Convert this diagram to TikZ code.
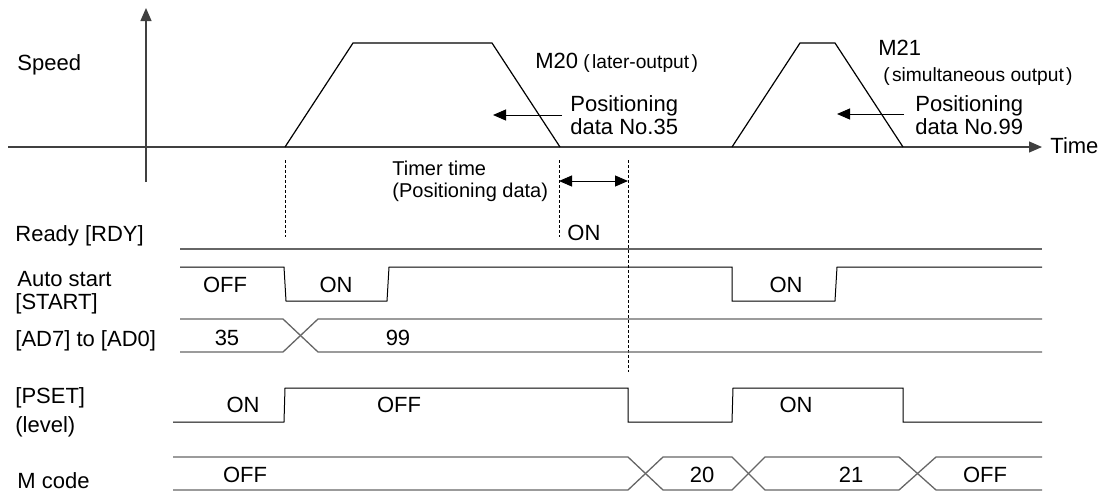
\documentclass[tikz,border=0pt]{standalone}
\usepackage{fontspec}
\setmainfont{Liberation Sans}
\usetikzlibrary{arrows.meta}
\begin{document}
\begin{tikzpicture}[x=0.5pt,y=-0.5pt,
  font=\fontsize{11}{12}\selectfont,
  grid/.style={draw=black!60, line width=0.65pt},
  sig/.style={draw=black, line width=0.5pt},
  ax/.style={draw=black!75, line width=0.6pt},
  trap/.style={draw=black, line width=0.6pt},
  tip/.style={-{Triangle[length=6.5pt,width=5.5pt]}},
  dtip/.style={{Triangle[length=6.5pt,width=5.5pt]}-{Triangle[length=6.5pt,width=5.5pt]}},
  lbl/.style={anchor=base west, inner sep=0pt},
  val/.style={anchor=base, inner sep=0pt},
  small/.style={font=\fontsize{9.6}{10}\selectfont},
  mid/.style={font=\fontsize{10}{12}\selectfont},
  dsh/.style={draw=black, line width=0.5pt, dash pattern=on 1.5pt off 1pt}]
\useasboundingbox (0,0) rectangle (1104,493);

% axes
\coordinate (vb) at (146,182);
\coordinate (vt) at (146,8);
\draw[ax,tip] (vb) -- (vt);
\coordinate (h0) at (8,147);
\coordinate (h1) at (1042,147);
\draw[ax,tip] (h0) -- (h1);
\node[lbl] (time) at (1050,153) {Time};

% speed profiles
\draw[trap] (285,147) -- (353,43) -- (492,43) -- (560,147);
\draw[trap] (732,147) -- (800,43) -- (835,43) -- (903,147);

% left labels
\node[lbl] (speed) at (17,70) {Speed};
\node[lbl] (rdy) at (15,241) {Ready [RDY]};
\node[lbl] (auto) at (17,286) {Auto start};
\node[lbl] (start) at (15,309) {[START]};
\node[lbl] (ad) at (15,346) {[AD7] to [AD0]};
\node[lbl] (pset) at (15,403) {[PSET]};
\node[lbl] (level) at (15,432) {(level)};
\node[lbl] (mcode) at (17,488) {M code};

% M20 annotation
\node[lbl] (m20) at (535,68) {M20};
\node[lbl,small] (m20s) at (583,68) {(\hspace{0.12em}later-output\hspace{0.12em})};
\node[lbl] (pd35a) at (570,111) {Positioning};
\node[lbl] (pd35b) at (570,134) {data No.35};
\coordinate (a35s) at (562,115);
\coordinate (a35e) at (493,115);
\draw[sig,tip] (a35s) -- (a35e);

% M21 annotation
\node[lbl] (m21) at (878,55) {M21};
\node[lbl,small] (m21s) at (883,81) {(\hspace{0.12em}simultaneous output\hspace{0.12em})};
\node[lbl] (pd99a) at (915,111) {Positioning};
\node[lbl] (pd99b) at (915,134) {data No.99};
\coordinate (a99s) at (904,114);
\coordinate (a99e) at (837,114);
\draw[sig,tip] (a99s) -- (a99e);

% timer
\node[lbl,mid] (tt1) at (392,175) {Timer time};
\node[lbl,mid] (tt2) at (392,197) {(Positioning data)};
\coordinate (d1t) at (285,160); \coordinate (d1b) at (285,237);
\coordinate (d2t) at (559,160); \coordinate (d2b) at (559,237);
\coordinate (d3t) at (628,160); \coordinate (d3b) at (628,372);
\draw[dsh] (d1t) -- (d1b);
\draw[dsh] (d2t) -- (d2b);
\draw[dsh] (d3t) -- (d3b);
\coordinate (ta) at (559,181);
\coordinate (tb) at (628,181);
\draw[sig,dtip] (ta) -- (tb);

% Ready
\draw[grid] (180,249) -- (1042,249);
\node[lbl] (rdyon) at (567,240) {ON};

% Auto start
\draw[sig] (180,267) -- (284,267) -- (286,301) -- (387,301) -- (389,267) -- (732,267) -- (732,301) -- (835,301) -- (837,267) -- (1042,267);
\node[val] (st1) at (225,292) {OFF};
\node[val] (st2) at (336,292) {ON};
\node[val] (st3) at (786,292) {ON};

% AD
\draw[grid] (180,319) -- (283,319) -- (318,352) -- (1042,352);
\draw[grid] (180,352) -- (283,352) -- (318,319) -- (1042,319);
\node[val] (ad35) at (227,345) {35};
\node[val] (ad99) at (398,345) {99};

% PSET
\draw[sig] (173,422) -- (284,422) -- (285,388) -- (628,388) -- (628,422) -- (732,422) -- (733,388) -- (903,388) -- (903,422) -- (1042,422);
\node[val] (ps1) at (243,412) {ON};
\node[val] (ps2) at (399,412) {OFF};
\node[val] (ps3) at (796,412) {ON};

% M code
\draw[grid] (173,457) -- (628,457) -- (663,490) -- (732,490) -- (765,457) -- (899,457) -- (936,490) -- (1042,490);
\draw[grid] (173,490) -- (628,490) -- (663,457) -- (732,457) -- (765,490) -- (899,490) -- (936,457) -- (1042,457);
\node[val] (mc1) at (245,482) {OFF};
\node[val] (mc2) at (702,482) {20};
\node[val] (mc3) at (851,482) {21};
\node[val] (mc4) at (985,482) {OFF};
\end{tikzpicture}
\end{document}
